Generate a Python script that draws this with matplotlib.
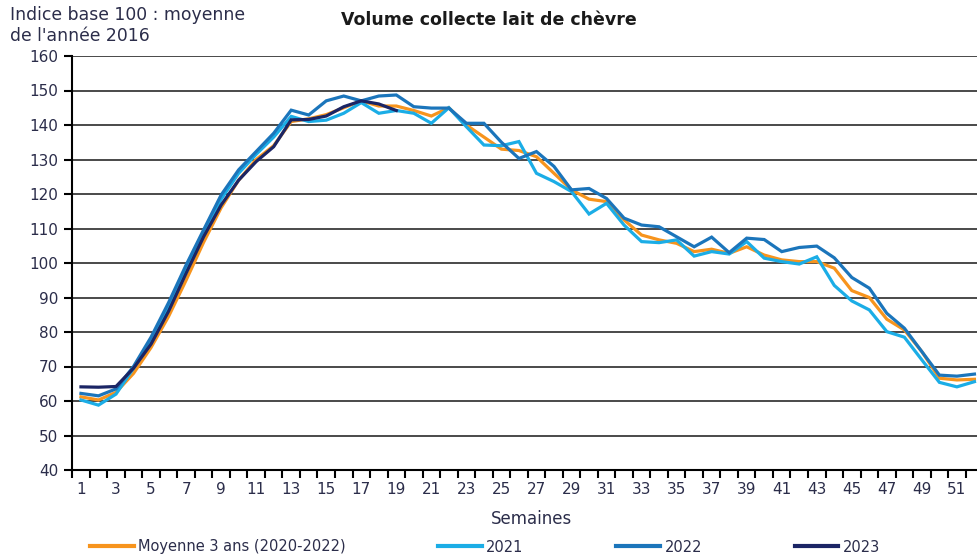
import numpy as np
import matplotlib
matplotlib.use("Agg")
import matplotlib.pyplot as plt
from matplotlib.ticker import FixedLocator

#%% Data
semaines = list(range(1, 53))

moyenne_3_ans = [61.2, 60.3, 62.5, 68.0, 75.5, 84.5, 95.0, 106.0, 116.0, 124.0,
	130.0, 134.0, 141.0, 141.8, 143.0, 145.0, 147.0, 145.5, 145.5, 144.2,
	142.6, 145.0, 140.0, 136.5, 133.0, 132.6, 130.8, 126.0, 121.2, 118.5,
	117.8, 112.5, 108.1, 106.7, 105.7, 103.3, 104.0, 102.8, 104.7, 102.3,
	100.9, 100.4, 100.4, 98.5, 92.0, 90.0, 83.7, 80.6, 74.3, 66.6,
	66.1, 66.3]

vol_2021 = [60.3, 58.8, 62.0, 69.5, 77.5, 87.0, 98.0, 108.5, 118.5, 126.0,
	131.5, 136.5, 142.5, 141.0, 141.4, 143.4, 146.5, 143.4, 144.2, 143.4,
	140.5, 145.0, 139.5, 134.2, 134.0, 135.2, 126.0, 123.6, 120.7, 114.2,
	117.3, 111.0, 106.2, 105.9, 106.7, 102.0, 103.3, 102.6, 106.2, 101.4,
	100.4, 99.7, 101.8, 93.5, 89.0, 86.4, 80.1, 78.5, 71.9, 65.4,
	64.1, 65.6]

vol_2022 = [62.2, 61.5, 63.5, 70.0, 78.5, 88.5, 99.4, 109.6, 119.7, 127.0,
	132.3, 137.6, 144.3, 142.9, 147.0, 148.4, 147.0, 148.4, 148.7, 145.3,
	144.9, 144.9, 140.5, 140.5, 135.0, 130.3, 132.3, 128.0, 121.2, 121.6,
	118.7, 113.0, 111.0, 110.5, 107.6, 104.7, 107.5, 103.0, 107.2, 106.8,
	103.3, 104.5, 104.9, 101.5, 95.8, 92.7, 85.4, 81.1, 74.3, 67.5,
	67.2, 67.8]

vol_2023 = [64.1, 64.0, 64.2, 69.5, 76.5, 86.0, 97.0, 107.6, 116.8, 124.0,
	129.4, 133.7, 141.5, 141.6, 142.6, 145.3, 147.0, 146.1, 144.2]

series_labels = ["Moyenne 3 ans (2020-2022)", "2021", "2022", "2023"]
series_colors = ["#F7941D", "#1BADE6", "#1B75BB", "#1B2565"]

#%% Figure
text_color = "#2b2d4a"
plt.rcParams["font.family"] = ["DejaVu Sans"]

fig = plt.figure(figsize=(9.78, 5.55), dpi=100)
ax = fig.add_axes([72.2 / 978, 85 / 555, 911 / 978, 414 / 555])

all_series = [moyenne_3_ans, vol_2021, vol_2022, vol_2023]
for values, label, color in zip(all_series, series_labels, series_colors):
	ax.plot(semaines[:len(values)], values, color=color, lw=2.3, label=label,
		solid_joinstyle="miter", zorder=3)

ax.set_xlim(0.5, 52.5)
ax.set_ylim(40, 160)
ax.set_yticks(np.arange(40, 161, 10))
ax.yaxis.grid(True, color="#3a3a3a", lw=1.3)
ax.set_axisbelow(True)

# category axis: labels on odd weeks, tick marks between categories
ax.xaxis.set_major_locator(FixedLocator(list(range(1, 53, 2))))
ax.xaxis.set_minor_locator(FixedLocator([w + 0.5 for w in range(0, 53)]))
ax.tick_params(axis="x", which="major", length=0, pad=9, labelsize=11, labelcolor=text_color)
ax.tick_params(axis="x", which="minor", length=6, width=1.5, color="black", direction="out")
ax.tick_params(axis="y", length=6, width=1.5, color="black", labelsize=11, labelcolor=text_color, pad=4)

for side in ["top", "right"]:
	ax.spines[side].set_visible(False)
ax.spines["left"].set_linewidth(1.5)
ax.spines["bottom"].set_linewidth(1.5)

fig.text(10 / 978, 1 - 15 / 555, "Indice base 100 : moyenne", fontsize=12.4, color=text_color, va="center")
fig.text(10 / 978, 1 - 36 / 555, "de l'année 2016", fontsize=12.4, color=text_color, va="center")
fig.text(489 / 978, 1 - 20 / 555, "Volume collecte lait de chèvre", fontsize=12.5, fontweight="bold",
	color="#1a1a1a", ha="center", va="center")
fig.text(532 / 978, 1 - 519 / 555, "Semaines", fontsize=12, color=text_color, ha="center", va="center")

leg = fig.legend(loc="center left", bbox_to_anchor=(84 / 978, 8 / 555), ncol=4, frameon=False,
	fontsize=10.5, handlelength=3.0, handletextpad=0.3, columnspacing=6.35, borderaxespad=0)
for txt in leg.get_texts():
	txt.set_color(text_color)
for line in leg.get_lines():
	line.set_linewidth(3)

fig.savefig("out.png", dpi=100)
